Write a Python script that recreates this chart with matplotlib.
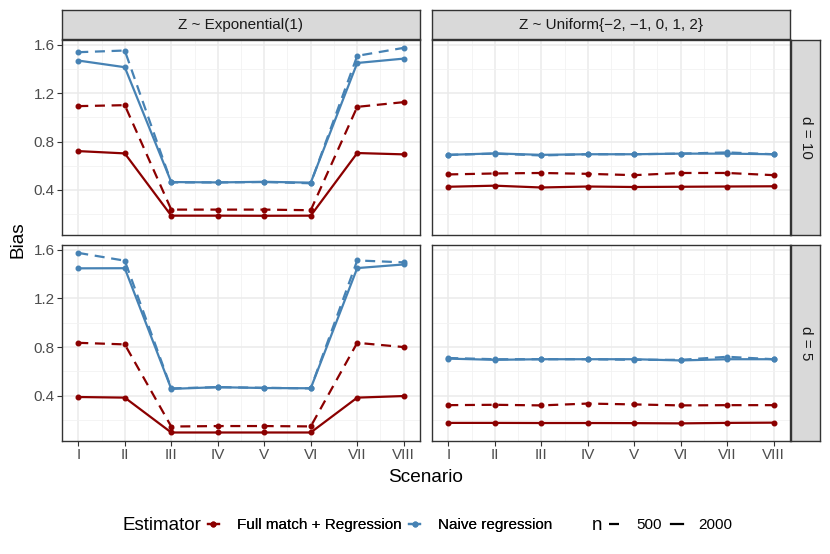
import matplotlib
matplotlib.use('Agg')
import matplotlib.pyplot as plt
from matplotlib.lines import Line2D

plt.rcParams['font.family'] = ['Liberation Sans', 'DejaVu Sans']

scenarios = ['I', 'II', 'III', 'IV', 'V', 'VI', 'VII', 'VIII']
x = list(range(1, 9))

# Z ~ Exponential(1), d = 10
exp_d10_full_500 = [1.093, 1.101, 0.237, 0.237, 0.237, 0.232, 1.087, 1.126]
exp_d10_full_2000 = [0.721, 0.702, 0.187, 0.187, 0.186, 0.187, 0.705, 0.694]
exp_d10_naive_500 = [1.539, 1.553, 0.462, 0.462, 0.465, 0.455, 1.509, 1.575]
exp_d10_naive_2000 = [1.470, 1.415, 0.465, 0.462, 0.467, 0.460, 1.450, 1.486]

# Z ~ Exponential(1), d = 5
exp_d5_full_500 = [0.835, 0.822, 0.146, 0.150, 0.150, 0.147, 0.835, 0.800]
exp_d5_full_2000 = [0.389, 0.384, 0.097, 0.097, 0.097, 0.097, 0.384, 0.397]
exp_d5_naive_500 = [1.575, 1.511, 0.460, 0.470, 0.465, 0.460, 1.513, 1.497]
exp_d5_naive_2000 = [1.448, 1.449, 0.456, 0.470, 0.463, 0.461, 1.450, 1.480]

# Z ~ Uniform{-2,...,2}, d = 10
uni_d10_full_500 = [0.528, 0.536, 0.540, 0.533, 0.522, 0.540, 0.540, 0.522]
uni_d10_full_2000 = [0.426, 0.435, 0.420, 0.428, 0.424, 0.426, 0.428, 0.430]
uni_d10_naive_500 = [0.690, 0.700, 0.685, 0.695, 0.695, 0.700, 0.710, 0.695]
uni_d10_naive_2000 = [0.690, 0.702, 0.690, 0.695, 0.695, 0.700, 0.700, 0.695]

# Z ~ Uniform{-2,...,2}, d = 5
uni_d5_full_500 = [0.322, 0.325, 0.320, 0.335, 0.328, 0.320, 0.322, 0.322]
uni_d5_full_2000 = [0.176, 0.176, 0.175, 0.175, 0.174, 0.172, 0.176, 0.178]
uni_d5_naive_500 = [0.710, 0.700, 0.700, 0.700, 0.695, 0.695, 0.720, 0.700]
uni_d5_naive_2000 = [0.705, 0.695, 0.700, 0.700, 0.700, 0.690, 0.700, 0.700]

col_titles = ['Z ~ Exponential(1)', 'Z ~ Uniform{\u22122, \u22121, 0, 1, 2}']
row_titles = ['d = 10', 'd = 5']

panels = {
    (0, 0): [exp_d10_full_500, exp_d10_full_2000, exp_d10_naive_500, exp_d10_naive_2000],
    (1, 0): [exp_d5_full_500, exp_d5_full_2000, exp_d5_naive_500, exp_d5_naive_2000],
    (0, 1): [uni_d10_full_500, uni_d10_full_2000, uni_d10_naive_500, uni_d10_naive_2000],
    (1, 1): [uni_d5_full_500, uni_d5_full_2000, uni_d5_naive_500, uni_d5_naive_2000],
}

red = '#8B0000'
blue = '#4682B4'
dash = (4.5, 3)
styles = [(red, dash), (red, None), (blue, dash), (blue, None)]

W, H = 830, 554
fig = plt.figure(figsize=(8.3, 5.54), dpi=100)


def box(x0, y0, x1, y1):
    return [x0 / W, 1 - y1 / H, (x1 - x0) / W, (y1 - y0) / H]


def strip(x0, y0, x1, y1, label, rot):
    sax = fig.add_axes(box(x0, y0, x1, y1))
    sax.set_facecolor('#D9D9D9')
    sax.set_xticks([])
    sax.set_yticks([])
    for s in sax.spines.values():
        s.set_color('#333333')
        s.set_linewidth(1.0)
    sax.text(0.5, 0.5, label, ha='center', va='center', rotation=rot,
             fontsize=11, color='#1A1A1A', transform=sax.transAxes)


cols_px = [(62, 420), (432, 790)]
rows_px = [(40, 235), (245, 441)]

for (r, c), series in panels.items():
    x0, x1 = cols_px[c]
    y0, y1 = rows_px[r]
    ax = fig.add_axes(box(x0, y0, x1, y1))
    ax.set_xlim(0.65, 8.35)
    ax.set_ylim(0.027, 1.64)
    ax.set_xticks(x)
    ax.set_xticks([i + 0.5 for i in x[:-1]], minor=True)
    ax.set_yticks([0.4, 0.8, 1.2, 1.6])
    ax.set_yticks([0.2, 0.6, 1.0, 1.4], minor=True)
    ax.grid(which='major', color='#EBEBEB', lw=1.1, zorder=0)
    ax.grid(which='minor', color='#F2F2F2', lw=0.6, zorder=0)
    ax.set_axisbelow(True)
    for s in ax.spines.values():
        s.set_color('#333333')
        s.set_linewidth(1.0)
    ax.tick_params(which='major', length=3.5, width=0.8, color='#333333',
                   labelsize=11, labelcolor='#4D4D4D', pad=1.8)
    ax.tick_params(which='minor', length=0)
    if r == 1:
        ax.set_xticklabels(scenarios)
    else:
        ax.set_xticklabels([])
        ax.tick_params(axis='x', length=0)
    if c == 0:
        ax.set_yticklabels(['0.4', '0.8', '1.2', '1.6'])
    else:
        ax.set_yticklabels([])
        ax.tick_params(axis='y', length=0)
    for vals, (color, ds) in zip(series, styles):
        line, = ax.plot(x, vals, color=color, lw=1.6, marker='o', ms=3.3,
                        zorder=3)
        if ds is not None:
            line.set_dashes(ds)

    if r == 0:
        strip(x0, 10, x1, 39, col_titles[c], 0)
    if c == 1:
        strip(791, y0, 820, y1, row_titles[r], -90)

fig.text(426 / W, 1 - 477 / H, 'Scenario', ha='center', va='center',
         fontsize=13.7)
fig.text(18 / W, 1 - 240 / H, 'Bias', ha='center', va='center', rotation=90,
         fontsize=13.7)

# legend
fig.text(122 / W, 1 - 525 / H, 'Estimator', ha='left', va='center',
         fontsize=13.5)
est_handles = [Line2D([], [], color=red, lw=1.6, marker='o', ms=3.3),
               Line2D([], [], color=blue, lw=1.6, marker='o', ms=3.3)]
leg1 = fig.legend(est_handles, ['Full match + Regression', 'Naive regression'],
                  loc='center left', bbox_to_anchor=(208 / W, 1 - 525 / H),
                  ncol=2, frameon=False, fontsize=11, handlelength=0.7,
                  handletextpad=1.2, columnspacing=0.5, borderaxespad=0,
                  borderpad=0)
fig.text(592 / W, 1 - 526 / H, 'n', ha='left', va='center', fontsize=13.5)
n_handles = [Line2D([], [], color='black', lw=1.6, dashes=(4.5, 3)),
             Line2D([], [], color='black', lw=1.6)]
leg2 = fig.legend(n_handles, ['500', '2000'], loc='center left',
                  bbox_to_anchor=(609 / W, 1 - 525 / H), ncol=2, frameon=False,
                  fontsize=11, handlelength=0.8, handletextpad=1.0,
                  columnspacing=0.6, borderaxespad=0, borderpad=0)
fig.add_artist(leg1)

fig.savefig('out.png', dpi=100)
